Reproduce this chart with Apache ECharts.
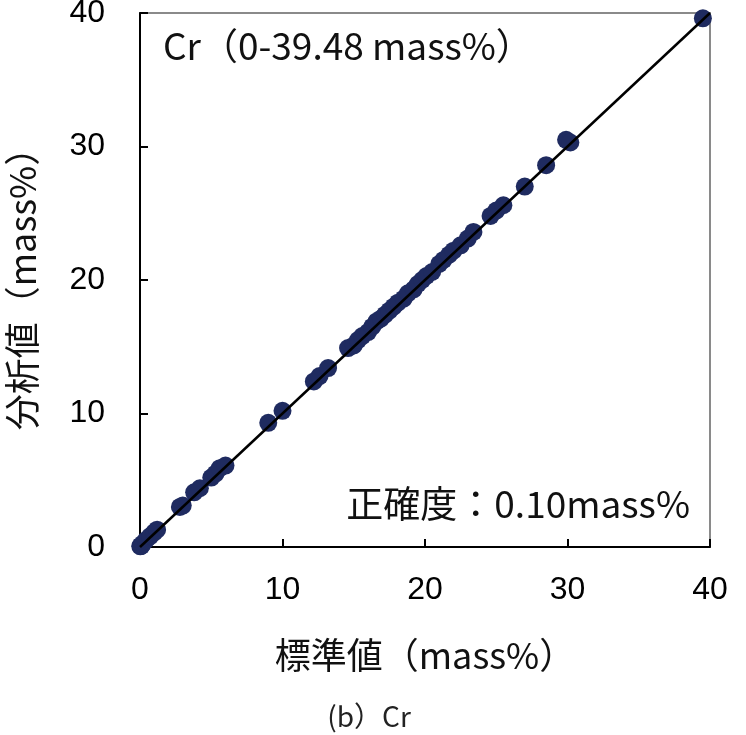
<!DOCTYPE html>
<html><head><meta charset="utf-8">
<script src="https://cdn.jsdelivr.net/npm/echarts@6/dist/echarts.min.js"></script>
<style>html,body{margin:0;padding:0;background:#fff}#c{width:746px;height:735px}</style>
</head><body><div id="c"></div>
<script>
const xTicks = [0, 10, 20, 30, 40];
const standardValues = [0.02,0.05,0.1,0.2,0.4,0.7,1.0,1.2,2.8,3.0,3.8,4.2,5.0,5.3,5.6,6.0,9.0,10.0,12.2,12.6,13.2,14.6,15.0,15.3,15.6,16.0,16.3,16.6,16.9,17.2,17.5,17.8,18.1,18.5,18.8,19.2,19.5,19.8,20.1,20.5,21.0,21.3,21.7,22.0,22.5,23.0,23.4,24.6,25.0,25.5,27.0,28.5,29.9,30.2,39.5];
const analysisValues = [0.05,0.1,0.08,0.25,0.5,0.8,1.1,1.3,3.0,3.1,4.1,4.4,5.2,5.5,5.9,6.1,9.3,10.2,12.4,12.8,13.4,14.9,15.1,15.5,15.8,16.1,16.5,16.9,17.1,17.4,17.7,18.0,18.3,18.6,19.0,19.3,19.7,20.0,20.3,20.6,21.2,21.5,21.9,22.2,22.6,23.1,23.6,24.8,25.2,25.6,27.0,28.6,30.5,30.3,39.6];
const lineX = [0, 40];
const lineY = [0, 40];

const chart = echarts.init(document.getElementById('c'));
const cjk = '"Noto Sans CJK JP", "Noto Sans", sans-serif';
const num = '"Liberation Sans", Arial, sans-serif';
chart.setOption({
  animation: false,
  backgroundColor: '#fff',
  title: {
    text: '(b）Cr', left: 364, top: 697, textAlign: 'center',
    textStyle: { fontFamily: cjk, fontSize: 28, fontWeight: 'normal', color: '#222' }
  },
  grid: { left: 140, right: 36, top: 13, bottom: 188, show: true, borderColor: '#8a8a8a', borderWidth: 2,
    containLabel: false, outerBoundsMode: 'none' },
  xAxis: {
    type: 'value', min: 0, max: 40, interval: 10,
    name: '標準値（mass%）', nameLocation: 'middle', nameGap: 90,
    nameTextStyle: { fontFamily: cjk, fontSize: 36, color: '#111' },
    axisLine: { show: true, lineStyle: { color: '#000', width: 2 } },
    axisTick: { show: true, inside: true, length: 8, lineStyle: { color: '#000', width: 2 } },
    axisLabel: { fontFamily: num, fontSize: 32, color: '#000', margin: 27,
      formatter: v => xTicks.includes(v) ? String(v) : '' },
    splitLine: { show: false }
  },
  yAxis: {
    type: 'value', min: 0, max: 40, interval: 10,
    name: '分析値（mass%）', nameLocation: 'middle', nameGap: 100,
    nameTextStyle: { fontFamily: cjk, fontSize: 36, color: '#111' },
    axisLine: { show: true, lineStyle: { color: '#000', width: 2 } },
    axisTick: { show: true, inside: true, length: 8, lineStyle: { color: '#000', width: 2 } },
    axisLabel: { fontFamily: num, fontSize: 32, color: '#000', margin: 35 },
    splitLine: { show: false }
  },
  graphic: [
    { type: 'text', left: 163, top: 27, style: { text: 'Cr（0-39.48 mass%）', font: '37px ' + cjk, fill: '#111' } },
    { type: 'text', right: 56, top: 485, style: { text: '正確度：0.10mass%', font: '37px ' + cjk, fill: '#111' } }
  ],
  series: [
    { type: 'scatter', data: standardValues.map((v, i) => [v, analysisValues[i]]),
      symbolSize: 18, itemStyle: { color: '#1f2b60', opacity: 1 }, z: 2, clip: false },
    { type: 'line', data: lineX.map((v, i) => [v, lineY[i]]), symbol: 'none',
      lineStyle: { color: '#000', width: 2.5 }, z: 3 }
  ]
});
</script></body></html>
